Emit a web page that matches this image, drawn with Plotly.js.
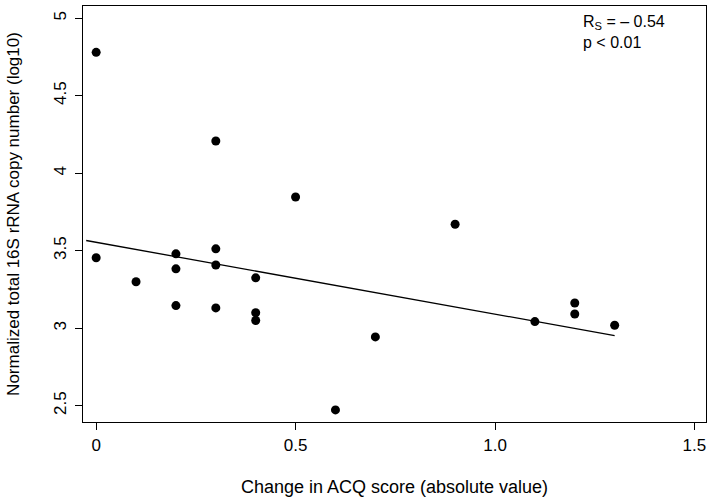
<!DOCTYPE html>
<html>
<head>
<meta charset="utf-8">
<script src="https://cdn.plot.ly/plotly-3.0.1.min.js"></script>
<style>html,body{margin:0;padding:0;background:#fff}#chart{width:712px;height:501px}</style>
</head>
<body>
<div id="chart"></div>
<script>
// Data
var acqChange = [0, 0, 0.1, 0.2, 0.2, 0.2, 0.3, 0.3, 0.3, 0.3, 0.4, 0.4, 0.4, 0.5, 0.6, 0.7, 0.9, 1.1, 1.2, 1.2, 1.3];
var rrnaLog10 = [4.78, 3.455, 3.30, 3.48, 3.383, 3.146, 4.208, 3.512, 3.408, 3.131, 3.325, 3.10, 3.05, 3.847, 2.473, 2.944, 3.671, 3.043, 3.163, 3.092, 3.019];
var fitX = [-0.025, 1.3];
var fitY = [3.566, 2.952];
var xTickVals = [0, 0.5, 1.0, 1.5];
var xTickText = ["0", "0.5", "1.0", "1.5"];
var yTickVals = [2.5, 3, 3.5, 4, 4.5, 5];
var yTickText = ["2.5", "3", "3.5", "4", "4.5", "5"];

var font = "Liberation Sans, Arial, Helvetica, sans-serif";

var traces = [
  {x: fitX, y: fitY, type: "scatter", mode: "lines",
   line: {color: "#000", width: 1.3}, hoverinfo: "skip", showlegend: false},
  {x: acqChange, y: rrnaLog10, type: "scatter", mode: "markers",
   marker: {color: "#000", size: 9}, showlegend: false}
];

var layout = {
  width: 712, height: 501,
  margin: {l: 83, r: 6, t: 6, b: 79},
  paper_bgcolor: "#fff", plot_bgcolor: "#fff",
  font: {family: font, color: "#000", size: 17},
  xaxis: {
    range: [-0.033, 1.529], showgrid: false, zeroline: false,
    showline: true, mirror: true, linecolor: "#000", linewidth: 1.3,
    ticks: "outside", ticklen: 7, tickwidth: 1, tickcolor: "#000",
    tickvals: xTickVals, ticktext: xTickText,
    tickfont: {size: 17, family: font},
    title: {text: "Change in ACQ score (absolute value)", font: {size: 18, family: font}, standoff: 26}
  },
  yaxis: {
    range: [2.395, 5.079], showgrid: false, zeroline: false,
    showline: true, mirror: true, linecolor: "#000", linewidth: 1.3,
    ticks: "outside", ticklen: 7, tickwidth: 1, tickcolor: "#000",
    tickvals: yTickVals, ticktext: yTickText, tickangle: -90, ticklabelstandoff: 2,
    tickfont: {size: 17, family: font},
    title: {text: "Normalized total 16S rRNA copy number (log10)", font: {size: 17, family: font}, standoff: 27}
  },
  annotations: [{
    xref: "paper", yref: "paper", x: 0.8, y: 0.988, xanchor: "left", yanchor: "top",
    align: "left", showarrow: false,
    text: "R<sub>S</sub> = \u2013 0.54<br>p &lt; 0.01",
    font: {size: 16, family: font, color: "#000"}
  }]
};

Plotly.newPlot("chart", traces, layout, {displayModeBar: false, staticPlot: true});
</script>
</body>
</html>
